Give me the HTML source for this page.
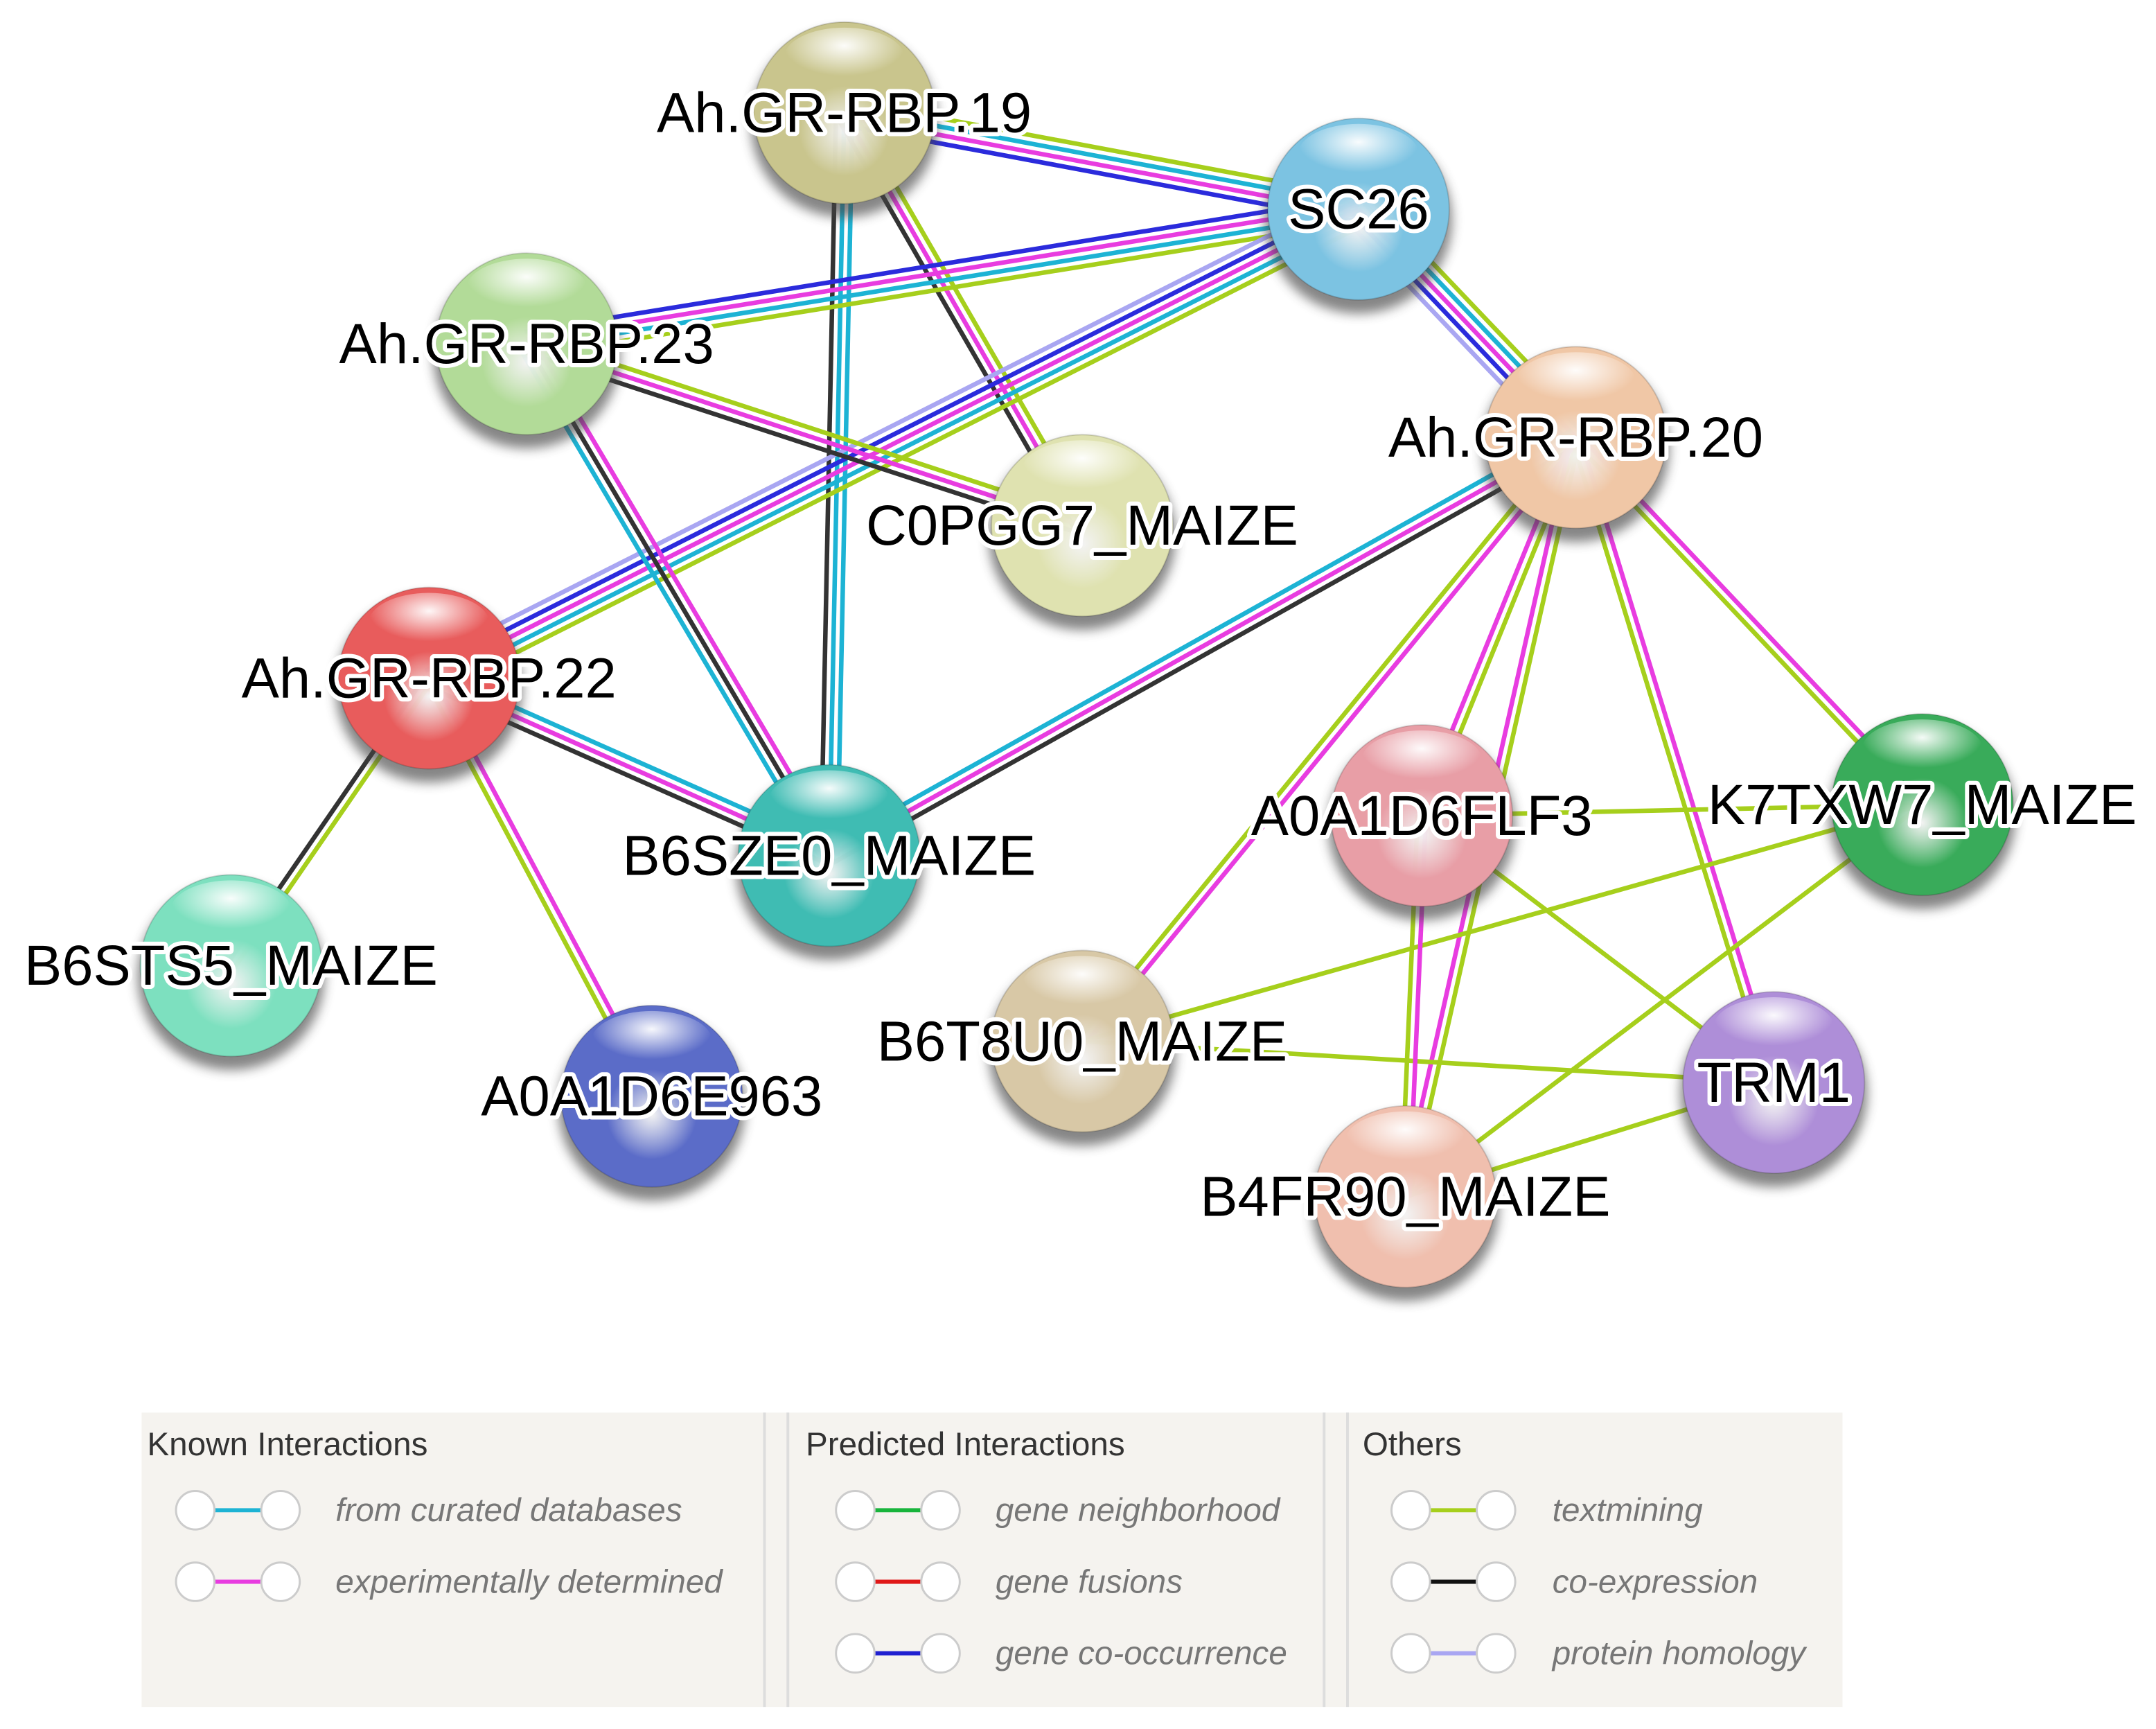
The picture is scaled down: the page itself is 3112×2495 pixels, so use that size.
<!DOCTYPE html>
<html><head><meta charset="utf-8">
<style>
html,body{margin:0;padding:0;background:#fff;}
svg{display:block;}
text{font-family:"Liberation Sans",sans-serif;}
</style></head>
<body>
<svg id="s" width="3112" height="2495" viewBox="0 0 1568 1257" xmlns="http://www.w3.org/2000/svg">
<defs>
<radialGradient id="shine" cx="50%" cy="30%" r="50%">
<stop offset="0" stop-color="#fff" stop-opacity="0.95"/>
<stop offset="1" stop-color="#fff" stop-opacity="0"/>
</radialGradient>
<filter id="blur"><feGaussianBlur stdDeviation="4"/></filter>
</defs>
<g id="edges"></g>
<g id="nodes"></g>
<g id="labels"></g>
<g id="legend">
<rect x="103" y="1027" width="1237" height="214" fill="#f5f3ef"/>
<line x1="556" y1="1027" x2="556" y2="1241" stroke="#ddd" stroke-width="2"/>
<line x1="573" y1="1027" x2="573" y2="1241" stroke="#ddd" stroke-width="2"/>
<line x1="963" y1="1027" x2="963" y2="1241" stroke="#ddd" stroke-width="2"/>
<line x1="980" y1="1027" x2="980" y2="1241" stroke="#ddd" stroke-width="2"/>
<text x="107" y="1058" font-size="24" fill="#333">Known Interactions</text>
<text x="586" y="1058" font-size="24" fill="#333">Predicted Interactions</text>
<text x="991" y="1058" font-size="24" fill="#333">Others</text>
</g>
</svg>
<script>
const NS="http://www.w3.org/2000/svg";
function el(t,a,p){const e=document.createElementNS(NS,t);for(const k in a)e.setAttribute(k,a[k]);p.appendChild(e);return e;}
const C={c:"#1db3d4",m:"#e83ce0",b:"#2b2bdc",l:"#a6cf1c",k:"#333",h:"#a9a6f2"};
const N={
n19:[614,82,"#c9c58d","Ah.GR-RBP.19"],
sc:[988,152,"#7cc3e2","SC26"],
n23:[383,250,"#b2db98","Ah.GR-RBP.23"],
c0:[787,382,"#dfe2b0","C0PGG7_MAIZE"],
n20:[1146,318,"#f0c7a6","Ah.GR-RBP.20"],
n22:[312,493,"#e85c5c","Ah.GR-RBP.22"],
sz:[603,622,"#3fbcb3","B6SZE0_MAIZE"],
flf:[1034,593,"#e89ea6","A0A1D6FLF3"],
k7:[1398,585,"#39ab5a","K7TXW7_MAIZE"],
sts:[168,702,"#7de0bf","B6STS5_MAIZE"],
e963:[474,797,"#5b6cc8","A0A1D6E963"],
t8:[787,757,"#d8c8a6","B6T8U0_MAIZE"],
trm:[1290,787,"#ae8ed8","TRM1"],
b4:[1022,870,"#f0bfae","B4FR90_MAIZE"]};
const E=[["n19","sc","lcmb"],["n19","sz","cck"],["n19","c0","lmk"],["sc","n23","lcmb"],["sc","n22","lcmbh"],
["sc","n20","lcmbh"],["n23","c0","lmk"],["n23","sz","mkc"],["n22","sz","cmk"],["n22","sts","lk"],["n22","e963","ml"],
["n20","sz","kmc"],["n20","flf","lm"],["n20","t8","ml"],["n20","k7","ml"],["n20","trm","ml"],["n20","b4","lm"],
["flf","k7","l"],["flf","trm","l"],["k7","t8","l"],["k7","b4","l"],["t8","trm","l"],["trm","b4","l"],["flf","b4","ml"]];
const eg=document.getElementById("edges");
E.forEach(([a,b,cs])=>{const A=N[a],B=N[b];const dx=B[0]-A[0],dy=B[1]-A[1],L=Math.hypot(dx,dy);const px=-dy/L,py=dx/L;const n=cs.length;
for(let i=0;i<n;i++){const o=(i-(n-1)/2)*6;el("line",{x1:A[0]+px*o,y1:A[1]+py*o,x2:B[0]+px*o,y2:B[1]+py*o,stroke:C[cs[i]],"stroke-width":3.3},eg);}});
const ng=document.getElementById("nodes"),lg=document.getElementById("labels");
let gi=0;
for(const k in N){const [x,y,col,lab]=N[k];gi++;
const g=el("radialGradient",{id:"g"+gi,cx:"50%",cy:"60%",r:"55%"},document.querySelector("defs"));
el("stop",{offset:"0","stop-color":"#fff","stop-opacity":"0.9"},g);
el("stop",{offset:"0.45","stop-color":col},g);
el("stop",{offset:"1","stop-color":col},g);
el("ellipse",{cx:x,cy:y+8,rx:68,ry:68,fill:"#444",opacity:0.65,filter:"url(#blur)"},ng);
el("circle",{cx:x,cy:y,r:66,fill:"url(#g"+gi+")",stroke:"rgba(0,0,0,0.15)","stroke-width":1},ng);
el("ellipse",{cx:x,cy:y-40,rx:44,ry:22,fill:"url(#shine)"},ng);
const t=el("text",{x:x,y:y+14,"font-size":41,"text-anchor":"middle",fill:"#000",stroke:"#fff","stroke-width":6,"stroke-linejoin":"round","paint-order":"stroke"},lg);
t.textContent=lab;}
const lgd=document.getElementById("legend");
const items=[[128,1098,"#1db3d4","from curated databases",244],[128,1150,"#e83ce0","experimentally determined",244],
[608,1098,"#18b43c","gene neighborhood",724],[608,1150,"#e01818","gene fusions",724],[608,1202,"#2020d0","gene co-occurrence",724],
[1012,1098,"#a6cf1c","textmining",1129],[1012,1150,"#111","co-expression",1129],[1012,1202,"#a9a6f2","protein homology",1129]];
items.forEach(([x,y,c,t,tx])=>{el("line",{x1:x+14,y1:y,x2:x+74,y2:y,stroke:c,"stroke-width":3},lgd);
el("circle",{cx:x+14,cy:y,r:14,fill:"#fff",stroke:"#ccc","stroke-width":1.5},lgd);
el("circle",{cx:x+76,cy:y,r:14,fill:"#fff",stroke:"#ccc","stroke-width":1.5},lgd);
const e=el("text",{x:tx,y:y+8,"font-size":24,"font-style":"italic",fill:"#777"},lgd);e.textContent=t;});
</script>
</body></html>
